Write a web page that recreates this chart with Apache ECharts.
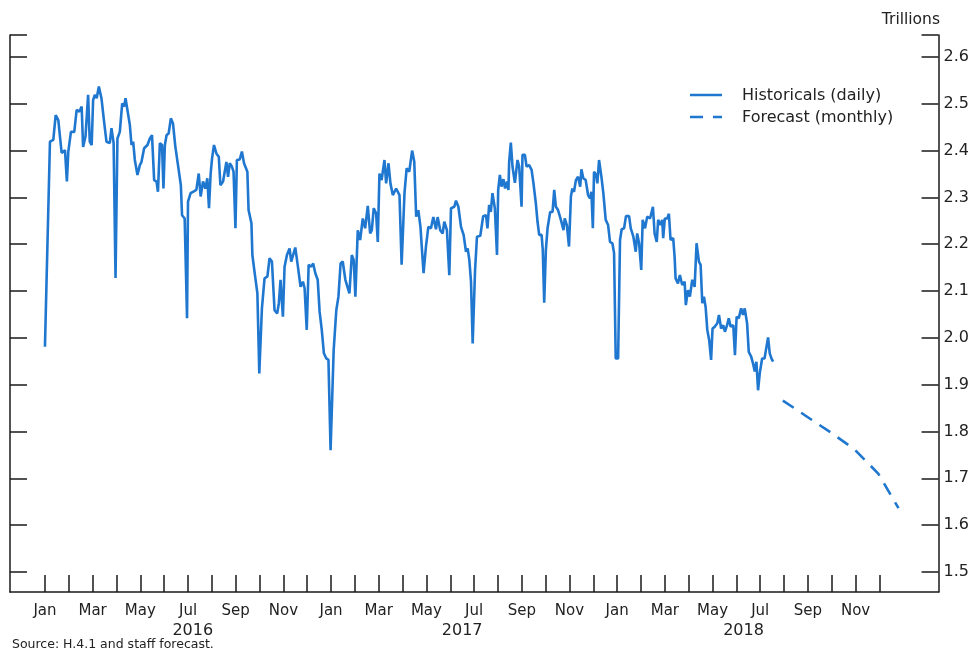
<!DOCTYPE html>
<html>
<head>
<meta charset="utf-8">
<script src="https://cdn.jsdelivr.net/npm/echarts@6/dist/echarts.min.js"></script>
<style>
	html, body { margin: 0; padding: 0; background: #fff; }
	#chart { width: 972px; height: 651px; }
</style>
</head>
<body>
<div id="chart"></div>
<script>

// x positions are months since Jan 2016 (0 = Jan 1 2016), values in trillions
var histMonth = [
	0.00,0.21,0.35,0.45,0.56,0.70,0.84,0.92,0.98,1.09,1.23,1.33,1.44,1.54,1.60,1.70,1.81,1.88,1.96,2.02,
	2.09,2.17,2.26,2.37,2.48,2.58,2.72,2.79,2.88,2.96,3.04,3.14,3.24,3.32,3.38,3.46,3.56,3.63,3.70,3.77,
	3.88,3.98,4.05,4.16,4.30,4.40,4.49,4.58,4.68,4.74,4.82,4.91,4.97,5.03,5.10,5.19,5.28,5.37,5.47,5.58,
	5.70,5.75,5.86,5.96,6.00,6.11,6.21,6.35,6.45,6.53,6.63,6.73,6.81,6.88,6.95,7.01,7.09,7.19,7.29,7.36,
	7.47,7.54,7.61,7.68,7.75,7.84,7.91,7.99,8.05,8.17,8.26,8.35,8.49,8.54,8.66,8.70,8.79,8.91,8.99,9.10,
	9.21,9.33,9.42,9.52,9.63,9.74,9.81,9.88,9.98,10.05,10.15,10.26,10.33,10.41,10.50,10.61,10.72,10.82,10.89,10.98,
	11.06,11.17,11.25,11.34,11.44,11.52,11.61,11.70,11.80,11.89,11.98,12.06,12.11,12.22,12.31,12.40,12.49,12.60,12.77,12.87,
	12.95,13.02,13.12,13.22,13.33,13.43,13.54,13.64,13.71,13.79,13.89,13.96,14.03,14.12,14.24,14.31,14.41,14.49,14.59,14.73,
	14.87,14.96,15.08,15.17,15.28,15.40,15.49,15.57,15.66,15.75,15.80,15.88,15.98,16.08,16.19,16.29,16.40,16.47,16.58,16.68,
	16.75,16.86,16.96,17.03,17.17,17.24,17.34,17.45,17.56,17.66,17.73,17.80,17.87,17.94,18.04,18.12,18.26,18.38,18.50,18.56,
	18.63,18.70,18.77,18.87,18.96,19.01,19.08,19.15,19.23,19.30,19.38,19.44,19.47,19.54,19.61,19.71,19.82,19.89,19.99,20.03,
	20.13,20.20,20.31,20.41,20.49,20.59,20.66,20.73,20.83,20.88,20.94,21.01,21.08,21.19,21.29,21.36,21.43,21.52,21.64,21.75,
	21.80,21.89,21.98,22.06,22.12,22.19,22.27,22.36,22.45,22.50,22.58,22.68,22.78,22.86,22.92,22.98,23.03,23.12,23.17,23.24,
	23.34,23.42,23.52,23.62,23.70,23.80,23.87,23.94,24.04,24.12,24.19,24.29,24.37,24.50,24.57,24.68,24.78,24.84,24.92,25.01,
	25.07,25.17,25.26,25.38,25.50,25.57,25.66,25.72,25.82,25.89,25.93,26.00,26.10,26.17,26.24,26.35,26.41,26.45,26.55,26.63,
	26.73,26.83,26.88,26.97,27.05,27.15,27.25,27.33,27.43,27.50,27.57,27.64,27.71,27.78,27.86,27.94,28.00,28.10,28.20,28.27,
	28.36,28.45,28.52,28.61,28.68,28.76,28.87,28.94,29.01,29.10,29.20,29.28,29.35,29.45,29.52,29.62,29.70,29.77,29.84,29.91,
	29.98,30.08,30.18,30.25,30.33,30.40,30.47,30.54
];

var histValue = [
	1.981,2.419,2.423,2.476,2.465,2.395,2.401,2.334,2.398,2.440,2.440,2.487,2.483,2.494,2.408,2.430,2.519,2.419,2.412,2.508,
	2.519,2.512,2.537,2.512,2.462,2.419,2.416,2.448,2.416,2.128,2.426,2.440,2.501,2.494,2.512,2.515,2.455,2.412,2.419,2.380,
	2.348,2.369,2.376,2.405,2.412,2.426,2.433,2.337,2.334,2.312,2.416,2.412,2.319,2.412,2.433,2.437,2.469,2.458,2.408,2.369,
	2.326,2.262,2.255,2.042,2.291,2.309,2.312,2.316,2.351,2.302,2.334,2.319,2.341,2.277,2.351,2.384,2.412,2.394,2.387,2.326,
	2.334,2.330,2.376,2.344,2.373,2.366,2.355,2.234,2.380,2.381,2.398,2.373,2.355,2.273,2.245,2.177,2.141,2.095,1.924,2.063,
	2.127,2.131,2.170,2.163,2.059,2.052,2.074,2.124,2.045,2.152,2.177,2.191,2.163,2.159,2.193,2.152,2.109,2.120,2.106,2.017,
	2.156,2.152,2.159,2.138,2.124,2.056,2.017,1.967,1.956,1.953,1.760,1.760,1.974,2.059,2.088,2.159,2.163,2.124,2.095,2.177,
	2.166,2.088,2.230,2.209,2.255,2.234,2.282,2.223,2.230,2.277,2.266,2.205,2.351,2.337,2.380,2.330,2.373,2.330,2.305,2.319,
	2.305,2.156,2.309,2.362,2.355,2.400,2.376,2.259,2.273,2.237,2.198,2.138,2.195,2.237,2.234,2.258,2.232,2.258,2.230,2.223,
	2.248,2.230,2.134,2.277,2.280,2.293,2.280,2.237,2.220,2.184,2.191,2.166,2.120,1.988,2.145,2.216,2.218,2.260,2.262,2.234,
	2.284,2.269,2.309,2.277,2.177,2.316,2.348,2.323,2.339,2.319,2.334,2.316,2.376,2.417,2.366,2.331,2.380,2.366,2.280,2.391,
	2.391,2.366,2.369,2.359,2.330,2.287,2.248,2.220,2.220,2.188,2.075,2.188,2.234,2.269,2.269,2.316,2.280,2.273,2.252,2.230,
	2.255,2.241,2.195,2.302,2.319,2.312,2.337,2.344,2.323,2.360,2.341,2.337,2.305,2.298,2.312,2.234,2.355,2.348,2.330,2.380,
	2.344,2.309,2.252,2.241,2.205,2.202,2.181,1.956,1.956,2.209,2.232,2.234,2.260,2.260,2.234,2.216,2.184,2.223,2.202,2.145,
	2.252,2.234,2.259,2.255,2.280,2.223,2.205,2.252,2.241,2.252,2.213,2.255,2.255,2.265,2.209,2.213,2.173,2.127,2.116,2.134,
	2.113,2.120,2.070,2.102,2.088,2.124,2.109,2.202,2.163,2.156,2.074,2.088,2.066,2.017,1.995,1.953,2.020,2.024,2.031,2.049,
	2.020,2.027,2.013,2.027,2.042,2.024,2.027,1.963,2.045,2.042,2.063,2.049,2.063,2.031,1.970,1.960,1.945,1.928,1.949,1.888,
	1.924,1.956,1.956,1.953,2.001,1.967,1.956,1.949
];

var fcstMonth = [30.95, 31.95, 32.95, 33.95, 34.95, 35.8];
var fcstValue = [1.866, 1.832, 1.798, 1.762, 1.710, 1.636];

var monthNames = ['Jan','Feb','Mar','Apr','May','Jun','Jul','Aug','Sep','Oct','Nov','Dec'];
var monthTicks = [];
for (let i = 0; i <= 35; i++) monthTicks.push(i);
var monthLabelPos = [0,2,4,6,8,10,12,14,16,18,20,22,24,26,28,30,32,34];
var yearLabelPos = [6.2, 17.5, 29.3];
var yearLabels = ['2016', '2017', '2018'];
var yTicks = [1.5,1.6,1.7,1.8,1.9,2.0,2.1,2.2,2.3,2.4,2.5,2.6];
var legendNames = ['Historicals (daily)', 'Forecast (monthly)'];

var xMin = -1.466, xMax = 37.48;
var yMin = 1.457, yMax = 2.647;

var lineColor = '#1f77d0';
var axisColor = '#1a1a1a';
var font = 'DejaVu Sans';

var myChart = echarts.init(document.getElementById('chart'));

function histData(){
	let d = [];
	for (let i = 0; i < histMonth.length; i++) d.push([histMonth[i], histValue[i]]);
	return d;
}
function fcstData(){
	let d = [];
	for (let i = 0; i < fcstMonth.length; i++) d.push([fcstMonth[i], fcstValue[i]]);
	return d;
}

var yAxisBase = {
	type: 'value',
	min: yMin,
	max: yMax,
	splitLine: { show: false },
	axisLine: { show: true, onZero: false, lineStyle: { color: axisColor, width: 1.5 } },
	axisTick: {
		show: true,
		inside: true,
		length: 17,
		customValues: yTicks.concat([yMax]),
		lineStyle: { color: axisColor, width: 1.5 }
	}
};

var option = {
	animation: false,
	backgroundColor: '#fff',
	textStyle: { fontFamily: font },
	grid: { left: 10, right: 32, top: 35, bottom: 59 },
	graphic: [
		{
			type: 'text',
			right: 32,
			top: 12,
			style: { text: 'Trillions', font: '15.5px "DejaVu Sans"', fill: '#222' }
		},
		{
			type: 'text',
			left: 12,
			top: 638,
			style: { text: 'Source: H.4.1 and staff forecast.', font: '12.5px "DejaVu Sans"', fill: '#222' }
		},
		// legend drawn by hand so the forecast sample is dashed
		{
			type: 'line',
			shape: { x1: 690, y1: 95, x2: 722, y2: 95 },
			style: { stroke: lineColor, lineWidth: 2.5 }
		},
		{
			type: 'line',
			shape: { x1: 690, y1: 117, x2: 722, y2: 117 },
			style: { stroke: lineColor, lineWidth: 2.5, lineDash: [13, 10] }
		},
		{
			type: 'text',
			left: 742,
			top: 88,
			style: { text: legendNames[0], font: '16px "DejaVu Sans"', fill: '#222' }
		},
		{
			type: 'text',
			left: 742,
			top: 110,
			style: { text: legendNames[1], font: '16px "DejaVu Sans"', fill: '#222' }
		}
	],
	xAxis: [
		{
			type: 'value',
			min: xMin,
			max: xMax,
			splitLine: { show: false },
			axisLine: { show: true, onZero: false, lineStyle: { color: axisColor, width: 1.5 } },
			axisTick: {
				show: true,
				inside: true,
				length: 17,
				customValues: monthTicks,
				lineStyle: { color: axisColor, width: 1.5 }
			},
			axisLabel: {
				customValues: monthLabelPos,
				margin: 12,
				color: '#222',
				fontFamily: font,
				fontSize: 15,
				formatter: function (v) { return monthNames[Math.round(v) % 12]; }
			}
		},
		{
			type: 'value',
			min: xMin,
			max: xMax,
			position: 'bottom',
			splitLine: { show: false },
			axisLine: { show: false, onZero: false },
			axisTick: { show: false },
			axisLabel: {
				customValues: yearLabelPos,
				margin: 31,
				color: '#222',
				fontFamily: font,
				fontSize: 16,
				formatter: function (v) {
					let i = yearLabelPos.indexOf(v);
					return i >= 0 ? yearLabels[i] : '';
				}
			}
		}
	],
	yAxis: [
		Object.assign({}, yAxisBase, {
			position: 'right',
			axisLabel: {
				customValues: yTicks,
				margin: 5,
				color: '#222',
				fontFamily: font,
				fontSize: 16,
				formatter: function (v) { return v.toFixed(1); }
			}
		}),
		Object.assign({}, yAxisBase, {
			position: 'left',
			axisLabel: { show: false }
		})
	],
	series: [
		{
			name: legendNames[0],
			type: 'line',
			xAxisIndex: 0,
			yAxisIndex: 0,
			symbol: 'none',
			data: histData(),
			lineStyle: { color: lineColor, width: 2.6 },
			itemStyle: { color: lineColor }
		},
		{
			name: legendNames[1],
			type: 'line',
			xAxisIndex: 0,
			yAxisIndex: 0,
			symbol: 'none',
			data: fcstData(),
			lineStyle: { color: lineColor, width: 2.6, type: [13, 9] },
			itemStyle: { color: lineColor }
		}
	]
};

myChart.setOption(option);

</script>
</body>
</html>
